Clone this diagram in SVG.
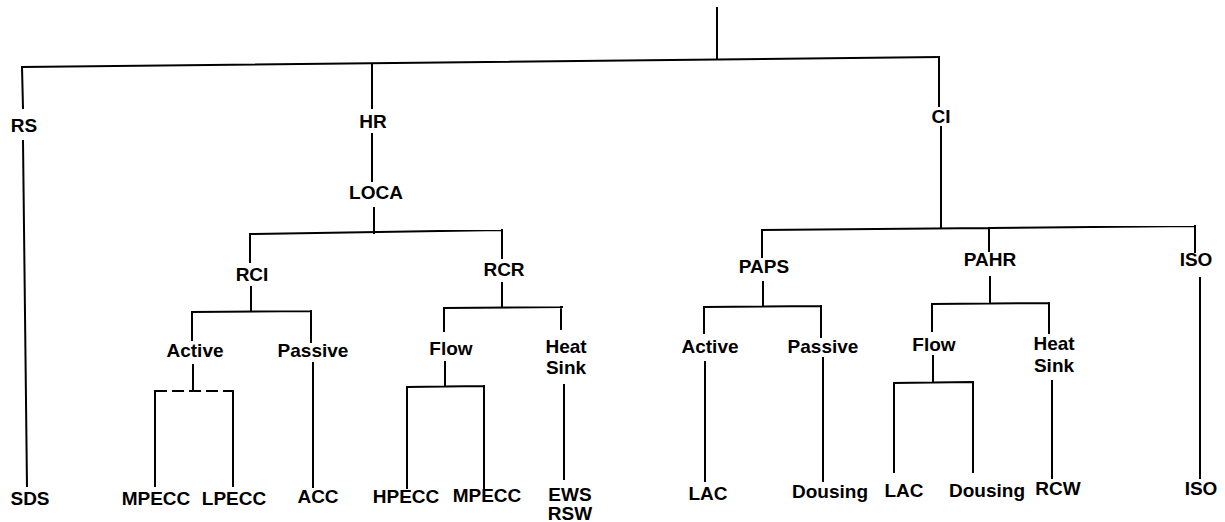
<svg xmlns="http://www.w3.org/2000/svg" width="1225" height="522" viewBox="0 0 1225 522">
<style>
.c{stroke:#000;stroke-width:2;fill:none;stroke-linecap:square}
.d{stroke-dasharray:12 5;stroke-linecap:butt}
text{font-family:"Liberation Sans",Arial,sans-serif;font-weight:bold;font-size:19px;fill:#000;text-anchor:middle}
</style>
<rect width="1225" height="522" fill="#fff"/>
<g id="connectors">
<path class="c" d="M717 8V59"/>
<path class="c" d="M22 67L939 57"/>
<path class="c" d="M22 67L23 108M23 141L27 486"/>
<path class="c" d="M372 64V108M372 134V181M374 208V233"/>
<path class="c" d="M250 234L502 230M250 234V262M502 230V258"/>
<path class="c" d="M251 287V311M192 312L311 311M192 312V340M311 311V342"/>
<path class="c" d="M193 365V391M155 391V486M233 391V486"/>
<path class="c d" d="M155 391H233"/>
<path class="c" d="M313 363V487"/>
<path class="c" d="M502 283V307M444 308L562 307M444 308V331M561 307V329"/>
<path class="c" d="M445 362V386M407 387L484 386M407 387V488M484 386V488"/>
<path class="c" d="M564 385V479"/>
<path class="c" d="M939 57V106M941 127V228"/>
<path class="c" d="M762 230L1195 226M762 230V257M989 228V251M1195 226V252"/>
<path class="c" d="M763 282V306M704 307L821 306M704 307V333M821 306V337"/>
<path class="c" d="M705 362V481M823 358V481"/>
<path class="c" d="M990 277V303M932 304L1049 303M932 304V331M1049 303V333"/>
<path class="c" d="M933 356V382M894 383L972 382M894 383V472M973 382V472"/>
<path class="c" d="M1052 381V478M1200 278V478"/>
</g>
<g id="n-RS"><text x="24" y="132">RS</text></g>
<g id="n-SDS"><text x="30" y="505">SDS</text></g>
<g id="n-HR"><text x="373" y="128">HR</text></g>
<g id="n-LOCA"><text x="376" y="199">LOCA</text></g>
<g id="n-RCI"><text x="252" y="281">RCI</text></g>
<g id="n-RCI-Active"><text x="195" y="357">Active</text></g>
<g id="n-RCI-Passive"><text x="313" y="357">Passive</text></g>
<g id="n-MPECC1"><text x="156" y="505">MPECC</text></g>
<g id="n-LPECC"><text x="234" y="505">LPECC</text></g>
<g id="n-ACC"><text x="318" y="503">ACC</text></g>
<g id="n-RCR"><text x="504" y="276">RCR</text></g>
<g id="n-RCR-Flow"><text x="451" y="355">Flow</text></g>
<g id="n-RCR-HeatSink"><text x="566" y="353">Heat</text><text x="566" y="374">Sink</text></g>
<g id="n-HPECC"><text x="406" y="503">HPECC</text></g>
<g id="n-MPECC2"><text x="487" y="502">MPECC</text></g>
<g id="n-EWS-RSW"><text x="570" y="501">EWS</text><text x="570" y="520">RSW</text></g>
<g id="n-CI"><text x="941" y="123">CI</text></g>
<g id="n-PAPS"><text x="764" y="273">PAPS</text></g>
<g id="n-PAPS-Active"><text x="710" y="353">Active</text></g>
<g id="n-PAPS-Passive"><text x="823" y="353">Passive</text></g>
<g id="n-LAC1"><text x="708" y="500">LAC</text></g>
<g id="n-Dousing1"><text x="830" y="498">Dousing</text></g>
<g id="n-PAHR"><text x="990" y="266">PAHR</text></g>
<g id="n-PAHR-Flow"><text x="934" y="351">Flow</text></g>
<g id="n-PAHR-HeatSink"><text x="1054" y="350">Heat</text><text x="1054" y="372">Sink</text></g>
<g id="n-LAC2"><text x="904" y="497">LAC</text></g>
<g id="n-Dousing2"><text x="987" y="497">Dousing</text></g>
<g id="n-RCW"><text x="1058" y="495">RCW</text></g>
<g id="n-ISO-top"><text x="1196" y="266">ISO</text></g>
<g id="n-ISO-bottom"><text x="1201" y="495">ISO</text></g>
</svg>
